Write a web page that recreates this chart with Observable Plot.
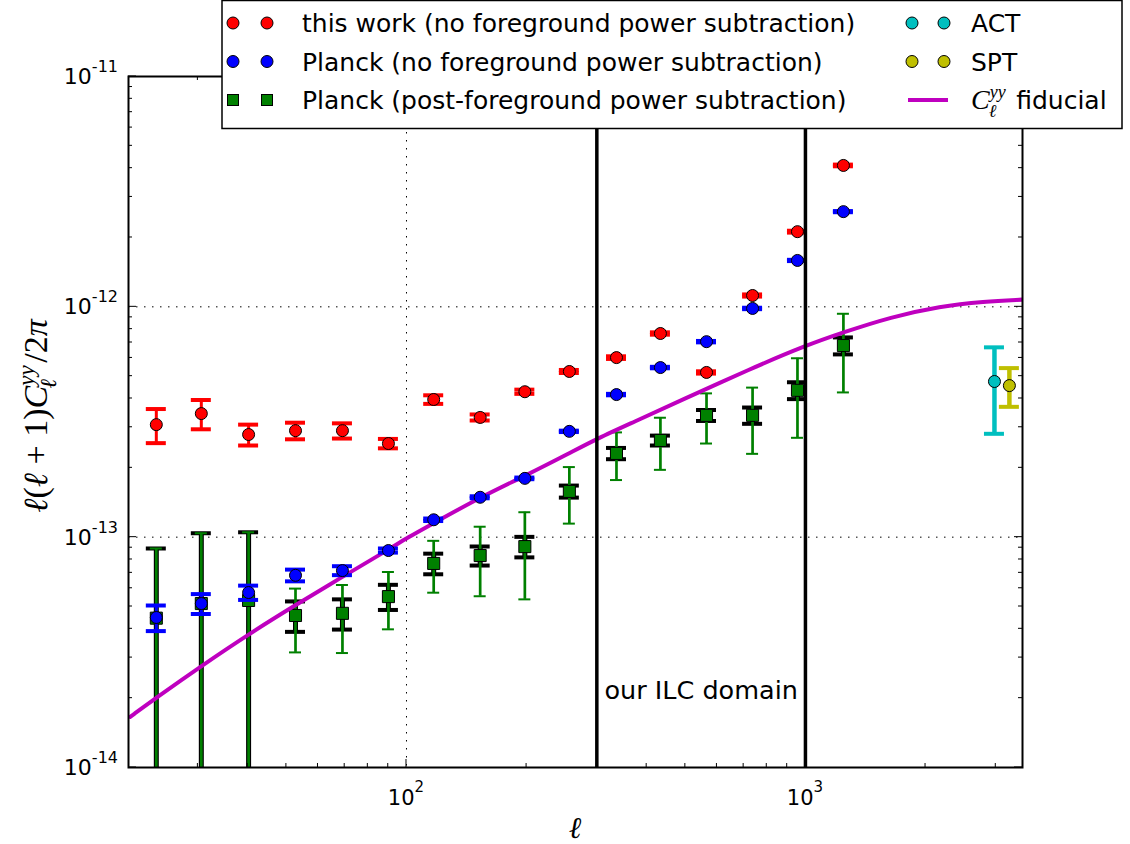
<!DOCTYPE html>
<html><head><meta charset="utf-8">
<script src="https://cdn.jsdelivr.net/npm/d3@7"></script>
<script src="https://cdn.jsdelivr.net/npm/@observablehq/plot@0.6"></script>
<style>
body{margin:0;background:#fff;}
#chart{position:relative;width:1130px;height:844px;}
</style>
</head><body><div id="chart"></div>
<script>
// ---------- data ----------
const ell = [23.6, 30.6, 40.2, 52.7, 69.1, 90.1, 117, 153, 198, 256, 336, 433, 565, 737, 955, 1245];

const thisWork    = [3.08e-13, 3.44e-13, 2.79e-13, 2.90e-13, 2.90e-13, 2.55e-13, 3.96e-13, 3.31e-13, 4.28e-13, 5.24e-13, 6.02e-13, 7.66e-13, 5.19e-13, 1.12e-12, 2.12e-12, 4.11e-12];
const thisWorkErr = [0.52e-13, 0.50e-13, 0.29e-13, 0.24e-13, 0.22e-13, 0.12e-13, 0.17e-13, 0.10e-13, 0.09e-13, 0.08e-13, 0.08e-13, 0.09e-13, 0.06e-13, 0.12e-13, 0.20e-13, 0.35e-13];

const planck    = [4.48e-14, 5.15e-14, 5.75e-14, 6.83e-14, 7.16e-14, 8.75e-14, 1.19e-13, 1.49e-13, 1.80e-13, 2.88e-13, 4.16e-13, 5.45e-13, 7.06e-13, 9.84e-13, 1.59e-12, 2.59e-12];
const planckErr = [0.57e-14, 0.51e-14, 0.41e-14, 0.40e-14, 0.32e-14, 0.18e-14, 0.15e-14, 0.15e-14, 0.15e-14, 0.20e-14, 0.30e-14, 0.40e-14, 0.50e-14, 0.70e-14, 1.00e-14, 1.50e-14];

const planckSub        = [4.45e-14, 5.15e-14, 5.31e-14, 4.57e-14, 4.67e-14, 5.52e-14, 7.69e-14, 8.32e-14, 9.10e-14, 1.58e-13, 2.31e-13, 2.63e-13, 3.38e-13, 3.38e-13, 4.34e-13, 6.79e-13];
const planckSubErrTot  = [4.48e-14, 5.25e-14, 5.19e-14, 1.41e-14, 1.53e-14, 1.54e-14, 1.95e-14, 2.78e-14, 3.73e-14, 4.35e-14, 5.40e-14, 6.70e-14, 8.30e-14, 1.08e-13, 1.64e-13, 2.54e-13];
const planckSubErrStat = [4.48e-14, 5.25e-14, 5.19e-14, 0.69e-14, 0.70e-14, 0.69e-14, 0.79e-14, 0.79e-14, 0.93e-14, 0.95e-14, 1.30e-14, 1.30e-14, 1.85e-14, 2.75e-14, 3.65e-14, 5.75e-14];

const actEll = [2977], act = [4.74e-13], actErr = [1.93e-13];
const sptEll = [3245], spt = [4.55e-13], sptErr = [0.87e-13];

const fidEll = [20.3, 23.7, 30.8, 40.3, 52, 68.3, 89.4, 101, 117, 153, 199, 258, 301, 371, 486, 728, 1000, 1247, 1633, 2179, 2798, 3500];
const fid    = [1.66e-14, 2.02e-14, 2.78e-14, 3.80e-14, 5.0e-14, 6.65e-14, 8.75e-14, 1.0e-13, 1.15e-13, 1.49e-13, 1.85e-13, 2.33e-13, 2.68e-13, 3.16e-13, 3.92e-13, 5.38e-13, 6.79e-13, 7.76e-13, 9.02e-13, 1.007e-12, 1.054e-12, 1.075e-12];

const ilcDomain = [300, 1000];
const ilcLabel = "our ILC domain";
const ilcLabelY = 2.15e-14;

const xDomain = [20.1, 3500];
const yDomain = [1e-14, 1e-11];
const xMajor = [100, 1000];
const xMajorExp = ["2", "3"];
const yMajor = [1e-14, 1e-13, 1e-12, 1e-11];
const yMajorExp = ["-14", "-13", "-12", "-11"];

const legendLeft = [
  {label: "this work (no foreground power subtraction)", fill: "#ff0000", symbol: "circle"},
  {label: "Planck (no foreground power subtraction)", fill: "#0000ff", symbol: "circle"},
  {label: "Planck (post-foreground power subtraction)", fill: "#008000", symbol: "square"}
];
const legendRight = [
  {label: "ACT", fill: "#00bfbf", symbol: "circle"},
  {label: "SPT", fill: "#bfbf00", symbol: "circle"},
  {label: "fiducial", fill: "#bf00bf", symbol: "line"}
];

// ---------- helpers ----------
const makeRows = (ls, vals, errs) => ls.map((l, i) => {
  const lo = vals[i] - errs[i];
  return {l, v: vals[i], hi: vals[i] + errs[i], lo: Math.max(lo, yDomain[0]), hasLo: lo > yDomain[0]};
});
function errorBars(data, o) {
  const h = o.capWidth / 2;
  return [
    Plot.ruleX(data, {x: "l", y1: "lo", y2: "hi", stroke: o.stroke, strokeWidth: o.width, clip: true}),
    Plot.ruleY(data, {x1: "l", x2: "l", y: "hi", stroke: o.stroke, strokeWidth: o.capThickness, insetLeft: -h, insetRight: -h}),
    Plot.ruleY(data.filter(d => d.hasLo), {x1: "l", x2: "l", y: "lo", stroke: o.stroke, strokeWidth: o.capThickness, insetLeft: -h, insetRight: -h})
  ];
}

const redRows = makeRows(ell, thisWork, thisWorkErr);
const blueRows = makeRows(ell, planck, planckErr);
const greenTot = makeRows(ell, planckSub, planckSubErrTot);
const greenStat = makeRows(ell, planckSub, planckSubErrStat);
const actRows = makeRows(actEll, act, actErr);
const sptRows = makeRows(sptEll, spt, sptErr);
const fidRows = fidEll.map((l, i) => ({l, v: fid[i]}));
const dotted = "1.5,6.5";

const plot = Plot.plot({
  width: 1130, height: 844,
  marginLeft: 128, marginRight: 108, marginTop: 76, marginBottom: 77,
  x: {type: "log", domain: xDomain, axis: null},
  y: {type: "log", domain: yDomain, axis: null},
  style: {fontFamily: "DejaVu Sans", background: "white", overflow: "visible"},
  marks: [
    Plot.ruleX(xMajor, {stroke: "black", strokeWidth: 1, strokeDasharray: dotted}),
    Plot.ruleY(yMajor.slice(1, 3), {stroke: "black", strokeWidth: 1, strokeDasharray: dotted}),
    Plot.text([ilcLabel], {x: Math.sqrt(ilcDomain[0] * ilcDomain[1]), y: ilcLabelY, text: d => d, fontSize: 25.5, fill: "black"}),
    ...errorBars(greenStat, {stroke: "black", width: 5, capWidth: 20, capThickness: 4}),
    ...errorBars(greenTot, {stroke: "#008000", width: 2.7, capWidth: 12, capThickness: 2}),
    Plot.dot(greenTot, {x: "l", y: "v", symbol: "square", r: 6.8, fill: "#008000", stroke: "black", strokeWidth: 1}),
    Plot.line(fidRows, {x: "l", y: "v", stroke: "#bf00bf", strokeWidth: 4, curve: "basis", clip: true}),
    ...errorBars(blueRows, {stroke: "#0000ff", width: 3, capWidth: 20, capThickness: 4}),
    Plot.dot(blueRows, {x: "l", y: "v", r: 6, fill: "#0000ff", stroke: "black", strokeWidth: 1}),
    ...errorBars(redRows, {stroke: "#ff0000", width: 3, capWidth: 20, capThickness: 4}),
    Plot.dot(redRows, {x: "l", y: "v", r: 6, fill: "#ff0000", stroke: "black", strokeWidth: 1}),
    ...errorBars(actRows, {stroke: "#00bfbf", width: 4.5, capWidth: 20, capThickness: 4}),
    Plot.dot(actRows, {x: "l", y: "v", r: 6, fill: "#00bfbf", stroke: "black", strokeWidth: 1}),
    ...errorBars(sptRows, {stroke: "#bfbf00", width: 4.5, capWidth: 20, capThickness: 4}),
    Plot.dot(sptRows, {x: "l", y: "v", r: 6, fill: "#bfbf00", stroke: "black", strokeWidth: 1}),
    Plot.ruleX(ilcDomain, {stroke: "black", strokeWidth: 3.5}),
    Plot.frame({stroke: "black", strokeWidth: 2})
  ]
});

// ---------- ticks, labels, legend ----------
const xs = plot.scale("x"), ys = plot.scale("y");
const svg = d3.select(plot);
const L = xs.apply(xDomain[0]), R = xs.apply(xDomain[1]);
const T = ys.apply(yDomain[1]), B = ys.apply(yDomain[0]);
const g = svg.append("g").attr("stroke", "black").attr("stroke-width", 1);
const minor = (dom, decades) => decades.flatMap(d => d3.range(2, 10).map(k => k * d)).filter(v => v > dom[0] && v < dom[1]);
const xMinor = minor(xDomain, [10, 100, 1000]);
const yMinor = minor(yDomain, [1e-14, 1e-13, 1e-12]);
function xTick(v, len) {
  const x = xs.apply(v);
  g.append("line").attr("x1", x).attr("x2", x).attr("y1", B).attr("y2", B - len);
  g.append("line").attr("x1", x).attr("x2", x).attr("y1", T).attr("y2", T + len);
}
function yTick(v, len) {
  const y = ys.apply(v);
  g.append("line").attr("x1", L).attr("x2", L + len).attr("y1", y).attr("y2", y);
  g.append("line").attr("x1", R).attr("x2", R - len).attr("y1", y).attr("y2", y);
}
xMinor.forEach(v => xTick(v, 4));
xMajor.forEach(v => xTick(v, 8));
yMinor.forEach(v => yTick(v, 4));
yMajor.forEach(v => yTick(v, 8));

const lab = svg.append("g").attr("font-family", "DejaVu Sans").attr("fill", "black");
xMajor.forEach((v, i) => {
  const t = lab.append("text").attr("x", xs.apply(v)).attr("y", B + 38).attr("text-anchor", "middle").attr("font-size", 21);
  t.append("tspan").text("10");
  t.append("tspan").attr("font-size", 15).attr("dy", -13).text(xMajorExp[i]);
});
yMajor.forEach((v, i) => {
  const t = lab.append("text").attr("x", L - 10).attr("y", ys.apply(v) + 8).attr("text-anchor", "end").attr("font-size", 22);
  t.append("tspan").text("10");
  t.append("tspan").attr("font-size", 16).attr("dy", -12).text(yMajorExp[i]);
});

// axis titles
const serif = "Liberation Serif";
lab.append("text").attr("x", (L + R) / 2).attr("y", 838).attr("text-anchor", "middle")
  .attr("font-family", "DejaVu Serif").attr("font-style", "italic").attr("font-size", 30).text("ℓ");
const yl = lab.append("text").attr("transform", `translate(47,416) rotate(-90)`)
  .attr("text-anchor", "middle").attr("font-family", serif).attr("font-size", 34);
yl.append("tspan").attr("font-style", "italic").text("ℓ");
yl.append("tspan").text("(");
yl.append("tspan").attr("font-style", "italic").text("ℓ");
yl.append("tspan").text(" + 1)");
yl.append("tspan").attr("font-style", "italic").text("C");
yl.append("tspan").attr("font-style", "italic").attr("font-size", 23).attr("dy", -13).text("yy");
yl.append("tspan").attr("font-style", "italic").attr("font-size", 23).attr("dx", -23).attr("dy", 22).text("ℓ");
yl.append("tspan").attr("dx", 16).attr("dy", -9).text("/2");
yl.append("tspan").attr("font-style", "italic").text("π");

// legend
const lg = svg.append("g").attr("text-anchor", "start");
lg.append("rect").attr("x", 222).attr("y", 0.5).attr("width", 900).attr("height", 128)
  .attr("fill", "white").attr("stroke", "black").attr("stroke-width", 1.5);
const rowY = [23, 61.5, 100];
function drawEntry(e, i, mx1, mx2, tx) {
  const y = rowY[i];
  if (e.symbol === "line") {
    lg.append("line").attr("x1", mx1 - 4).attr("x2", mx2 + 4).attr("y1", y).attr("y2", y)
      .attr("stroke", e.fill).attr("stroke-width", 4);
  } else {
    [mx1, mx2].forEach(mx => {
      if (e.symbol === "circle") lg.append("circle").attr("cx", mx).attr("cy", y).attr("r", 6)
        .attr("fill", e.fill).attr("stroke", "black");
      else lg.append("rect").attr("x", mx - 5.5).attr("y", y - 5.5).attr("width", 11).attr("height", 11)
        .attr("fill", e.fill).attr("stroke", "black");
    });
  }
  const t = lg.append("text").attr("x", tx).attr("y", y + 9).attr("text-anchor", "start")
    .attr("font-family", "DejaVu Sans").attr("font-size", 25);
  if (e.symbol === "line") {
    t.append("tspan").attr("font-family", serif).attr("font-style", "italic").attr("font-size", 28).text("C");
    t.append("tspan").attr("font-family", serif).attr("font-style", "italic").attr("font-size", 18).attr("dy", -11).text("yy");
    t.append("tspan").attr("font-family", serif).attr("font-style", "italic").attr("font-size", 18).attr("dx", -17).attr("dy", 19).text("ℓ");
    t.append("tspan").attr("dx", 20).attr("dy", -8).text(e.label);
  } else t.text(e.label);
}
legendLeft.forEach((e, i) => drawEntry(e, i, 233, 267, 302));
legendRight.forEach((e, i) => drawEntry(e, i, 912, 944, 971));

document.getElementById("chart").appendChild(plot);
</script>
</body></html>
